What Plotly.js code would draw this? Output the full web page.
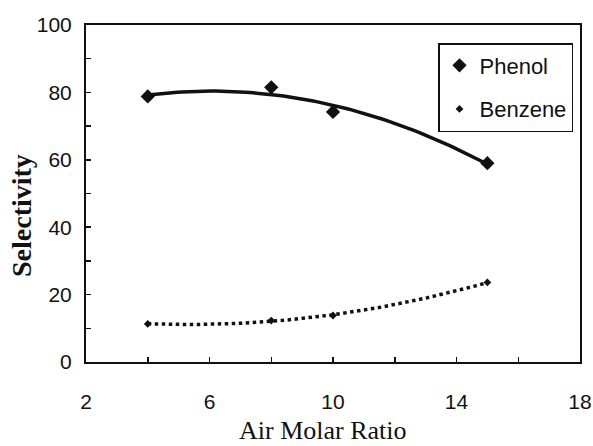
<!DOCTYPE html>
<html>
<head>
<meta charset="utf-8">
<script src="https://cdn.plot.ly/plotly-3.0.1.min.js"></script>
<style>html,body{margin:0;padding:0;background:#fff;}#chart{width:593px;height:446px;}</style>
</head>
<body>
<div id="chart"></div>
<script>
// Data
const airRatio = [4, 8, 10, 15];
const phenol = [78.8, 81.5, 74.2, 59.0];
const benzene = [11.3, 12.3, 13.8, 23.6];
const xTickVals = [2, 6, 10, 14, 18];
const yTickVals = [0, 20, 40, 60, 80, 100];
const xTitle = 'Air Molar Ratio';
const yTitle = 'Selectivity';

// Quadratic least-squares trendline (like a spreadsheet polynomial trendline)
function quadFit(xs, ys) {
  let S = [0,0,0,0,0], T = [0,0,0];
  for (let i = 0; i < xs.length; i++) {
    let p = 1;
    for (let k = 0; k < 5; k++) { S[k] += p; if (k < 3) T[k] += p * ys[i]; p *= xs[i]; }
  }
  const A = [[S[0],S[1],S[2],T[0]],[S[1],S[2],S[3],T[1]],[S[2],S[3],S[4],T[2]]];
  for (let c = 0; c < 3; c++) {
    for (let r = c + 1; r < 3; r++) {
      const f = A[r][c] / A[c][c];
      for (let k = c; k < 4; k++) A[r][k] -= f * A[c][k];
    }
  }
  const b = [0,0,0];
  for (let r = 2; r >= 0; r--) {
    let s = A[r][3];
    for (let k = r + 1; k < 3; k++) s -= A[r][k] * b[k];
    b[r] = s / A[r][r];
  }
  return x => b[0] + b[1] * x + b[2] * x * x;
}
function fitCurve(xs, ys) {
  const f = quadFit(xs, ys);
  const x0 = Math.min(...xs), x1 = Math.max(...xs);
  const fx = [], fy = [];
  for (let i = 0; i <= 80; i++) { const x = x0 + (x1 - x0) * i / 80; fx.push(x); fy.push(f(x)); }
  return {fx, fy};
}
const pFit = fitCurve(airRatio, phenol);
const bFit = fitCurve(airRatio, benzene);

const traces = [
  {x: pFit.fx, y: pFit.fy, mode: 'lines', line: {color: '#111', width: 3.5}, showlegend: false, hoverinfo: 'skip'},
  {x: bFit.fx, y: bFit.fy, mode: 'lines', line: {color: '#111', width: 3.5, dash: 'dot'}, showlegend: false, hoverinfo: 'skip'},
  {x: airRatio, y: phenol, mode: 'markers', name: 'Phenol', legendgroup: 'a',
   marker: {symbol: 'diamond', size: 11, color: '#111'}},
  {x: airRatio, y: benzene, mode: 'markers', name: 'Benzene', legendgroup: 'b',
   marker: {symbol: 'diamond', size: 6, color: '#111'}}
];

const serif = 'Liberation Serif, Times New Roman, serif';
const layout = {
  width: 593, height: 446,
  margin: {l: 86, r: 13, t: 25, b: 84},
  paper_bgcolor: '#fff', plot_bgcolor: '#fff',
  font: {family: 'Liberation Sans, Arial, sans-serif', color: '#111'},
  xaxis: {
    range: [2, 18], tickvals: xTickVals, ticks: 'inside', ticklen: 5, tickwidth: 1.5, tickcolor: '#111',
    minor: {dtick: 2, tick0: 0, ticks: 'inside', ticklen: 5, tickwidth: 1.5, tickcolor: '#111'},
    showline: true, linecolor: '#111', linewidth: 2, mirror: true, showgrid: false, zeroline: false,
    tickfont: {size: 21}, ticklabelstandoff: 20
  },
  yaxis: {
    range: [0, 100], tickvals: yTickVals, ticks: 'inside', ticklen: 5, tickwidth: 1.5, tickcolor: '#111',
    minor: {dtick: 10, tick0: 0, ticks: 'inside', ticklen: 5, tickwidth: 1.5, tickcolor: '#111'},
    showline: true, linecolor: '#111', linewidth: 2, mirror: true, showgrid: false, zeroline: false,
    tickfont: {size: 21}, ticklabelstandoff: 8
  },
  annotations: [
    {text: xTitle, xref: 'paper', yref: 'paper', x: (323 - 86) / 494, y: -(430 - 362) / 337,
     xanchor: 'center', yanchor: 'middle', showarrow: false, font: {family: serif, size: 26, color: '#111'}},
    {text: '<b>' + yTitle + '</b>', xref: 'paper', yref: 'paper', x: (22 - 86) / 494, y: (362 - 216) / 337,
     xanchor: 'center', yanchor: 'middle', textangle: -90, showarrow: false, font: {family: serif, size: 28, color: '#111'}}
  ],
  legend: {
    x: (438 - 86) / 494, y: (362 - 43) / 337, xanchor: 'left', yanchor: 'top',
    bordercolor: '#111', borderwidth: 1.5, bgcolor: '#fff',
    font: {size: 22, color: '#111'}, traceorder: 'grouped', tracegroupgap: 12
  },
  showlegend: true
};

Plotly.newPlot('chart', traces, layout, {staticPlot: true, displayModeBar: false});
</script>
</body>
</html>
